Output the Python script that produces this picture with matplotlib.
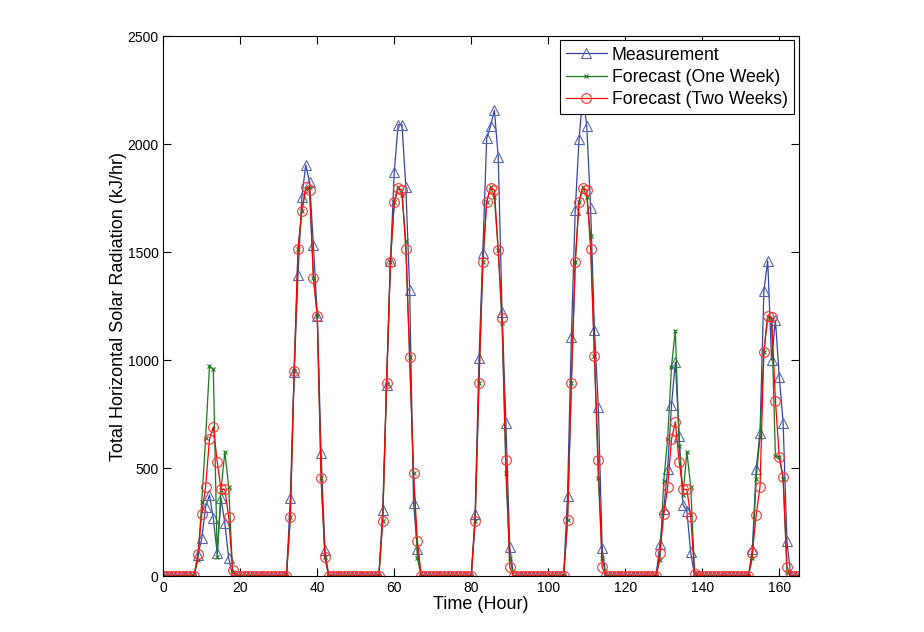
import numpy as np
import matplotlib
matplotlib.use("Agg")
from matplotlib import pyplot as plt

plt.rcParams['font.family'] = ['Liberation Sans', 'DejaVu Sans']

# hours 0..165, zero outside the daylight windows below
n_hours = 166
day_start = [9, 33, 57, 81, 105, 129, 153]

# measured radiation, one list per day (10 hourly values from day_start)
meas_days = [
    [97, 174, 321, 375, 267, 105, 360, 244, 82, 0],
    [360, 946, 1393, 1756, 1903, 1826, 1532, 1205, 568, 120],
    [306, 884, 1460, 1872, 2090, 2090, 1802, 1324, 340, 123],
    [287, 1008, 1497, 2026, 2083, 2157, 1941, 1224, 707, 136],
    [371, 1108, 1694, 2022, 2230, 2083, 1702, 1139, 784, 128],
    [150, 310, 494, 790, 990, 650, 330, 300, 110, 0],
    [123, 494, 664, 1320, 1460, 1000, 1185, 923, 710, 160],
]
# forecast using one week of history
fc1_days = [
    [74, 344, 637, 972, 957, 90, 400, 575, 413, 20],
    [275, 950, 1512, 1691, 1790, 1800, 1381, 1205, 452, 86],
    [256, 890, 1455, 1733, 1802, 1764, 1551, 1015, 475, 82],
    [256, 895, 1452, 1733, 1802, 1756, 1509, 1170, 475, 82],
    [259, 895, 1452, 1733, 1802, 1756, 1574, 1019, 452, 82],
    [74, 441, 633, 969, 1136, 602, 375, 575, 413, 15],
    [82, 450, 645, 1039, 1200, 1190, 556, 550, 450, 20],
]
# forecast using two weeks of history
fc2_days = [
    [102, 287, 414, 633, 691, 529, 401, 401, 272, 28],
    [275, 950, 1512, 1691, 1799, 1787, 1381, 1205, 452, 86],
    [256, 895, 1455, 1733, 1795, 1787, 1512, 1015, 475, 164],
    [256, 895, 1452, 1733, 1795, 1787, 1509, 1193, 537, 40],
    [259, 895, 1452, 1733, 1795, 1787, 1512, 1019, 537, 40],
    [105, 285, 410, 632, 714, 529, 401, 401, 275, 10],
    [105, 282, 414, 1039, 1204, 1198, 812, 552, 460, 43],
]


def full_series(days):
    y = np.zeros(n_hours)
    for s, vals in zip(day_start, days):
        y[s:s + len(vals)] = vals
    return y


hours = np.arange(n_hours)
meas = full_series(meas_days)
fc1 = full_series(fc1_days)
fc2 = full_series(fc2_days)

fig = plt.figure(figsize=(9.24, 6.32), dpi=100)
ax = fig.add_axes([0.1767, 0.0886, 0.6875, 0.8544])

ax.plot(hours, meas, color='#3344aa', lw=0.9, marker='^', ms=7,
        mfc='none', mec='#5566bb', mew=0.8, label='Measurement')
ax.plot(hours, fc1, color='#1a7a1a', lw=0.9, marker='x', ms=3.5,
        mew=0.8, label='Forecast (One Week)')
ax.plot(hours, fc2, color='#ff0000', lw=0.9, marker='o', ms=7,
        mfc='none', mec='#ff3333', mew=0.8, label='Forecast (Two Weeks)')

ax.set_xlim(0, 165)
ax.set_ylim(0, 2500)
ax.set_xticks(np.arange(0, 161, 20))
ax.set_yticks(np.arange(0, 2501, 500))
ax.tick_params(direction='in', top=True, right=True, labelsize=10, length=6)
ax.set_xlabel('Time (Hour)', fontsize=13, labelpad=1)
ax.set_ylabel('Total Horizontal Solar Radiation (kJ/hr)', fontsize=13, labelpad=0)

leg = ax.legend(loc='upper right', fontsize=12.7, frameon=True, fancybox=False,
                edgecolor='black', framealpha=1, handlelength=2.3,
                handletextpad=0.3, borderpad=0.35, labelspacing=0.3,
                borderaxespad=0.25)
leg.get_frame().set_linewidth(0.8)

fig.savefig('out.png', dpi=100, facecolor='white')
